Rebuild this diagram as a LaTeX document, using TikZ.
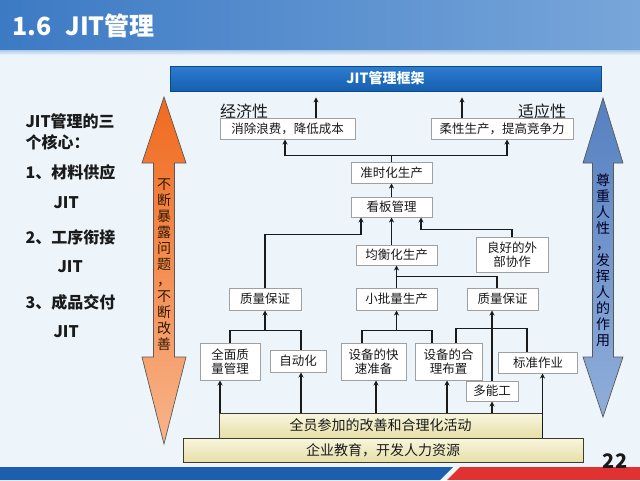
\documentclass[tikz,border=0pt]{standalone}
\usepackage{fontspec}
\setmainfont{Noto Sans CJK SC}
\usetikzlibrary{arrows.meta,calc}
\definecolor{bgc}{HTML}{EEF5FA}
\definecolor{titleL}{HTML}{3C7AC4}
\definecolor{titleR}{HTML}{78A6DA}
\definecolor{frameT}{HTML}{2C7CD0}
\definecolor{frameB}{HTML}{1560B0}
\definecolor{frameD}{HTML}{0E4A8A}
\definecolor{boxline}{HTML}{A0A0A0}
\definecolor{barT}{HTML}{F8F6DE}
\definecolor{barB}{HTML}{E6DFA8}
\definecolor{barD}{HTML}{3C3C30}
\definecolor{orT}{HTML}{F06A1E}
\definecolor{orB}{HTML}{F8B48A}
\definecolor{blT}{HTML}{5580C0}
\definecolor{blB}{HTML}{90AEDA}
\definecolor{bandB}{HTML}{1E5EAE}
\definecolor{bandR}{HTML}{E03232}
\definecolor{ink}{HTML}{1A1A1A}
\begin{document}
\begin{tikzpicture}[x=1pt,y=-1pt,
  bx/.style={draw=boxline, line width=1pt, fill=white, inner sep=1pt, align=center,
     font=\fontsize{12.5}{14}\selectfont, text=ink},
  barbox/.style={draw=barD, line width=1pt, top color=barT, bottom color=barB, inner sep=0pt,
     font=\fontsize{14}{16}\selectfont, text=ink},
  arr/.style={draw=ink, line width=1.3pt, -{Stealth[length=5pt,width=5pt]}},
  ln/.style={draw=ink, line width=1.3pt},
  core/.style={anchor=west, font=\bfseries\fontsize{16}{18}\selectfont, text=ink},
  vtxt/.style={align=center, font=\fontsize{14}{16}\selectfont, inner sep=0pt}
]
\useasboundingbox (0,0) rectangle (640,480);
\fill[bgc] (0,0) rectangle (640,480);
% title bar
\shade[left color=titleL, right color=titleR] (0,0) rectangle (640,50);
\shade[top color=titleR!60!white, bottom color=bgc] (0,50) rectangle (640,55);
\node[anchor=west, text=white, font=\bfseries\fontsize{25}{28}\selectfont] (title) at (9,26) {1.6\hspace{0.55em}JIT管理};
% bottom band
\fill[bandB] (0,467) -- (453,467) -- (440,480) -- (0,480) -- cycle;
\fill[bandR] (460,467) -- (640,467) -- (640,480) -- (447,480) -- cycle;
\node[font=\bfseries\fontsize{20}{22}\selectfont, text=ink] (pg) at (615,461) {22};

% framework bar
\node[draw=frameD, line width=0.8pt, top color=frameT, bottom color=frameB, minimum width=431pt, minimum height=25pt,
  text=white, font=\bfseries\fontsize{14}{16}\selectfont] (top) at (385.5,78.5) {JIT管理框架};

% left core text
\node[core] (c1) at (22,121) {JIT管理的三};
\node[core] (c2) at (22,142) {个核心：};
\node[core] (c3) at (22,172) {1、材料供应};
\node[core] (c4) at (50,203) {JIT};
\node[core] (c5) at (22,237) {2、工序衔接};
\node[core] (c6) at (54,267) {JIT};
\node[core] (c7) at (22,302) {3、成品交付};
\node[core] (c8) at (50,332) {JIT};

% big double arrows
\shade[top color=orT, bottom color=orB, draw=black!65, line width=0.7pt]
  (164,97) -- (186,163) -- (174.5,163) -- (174.5,357) -- (186,357) -- (164,444)
  -- (142,357) -- (153.5,357) -- (153.5,163) -- (142,163) -- cycle;
\node[vtxt, text=black!80!orange] (ot) at (164,265) {不\\断\\暴\\露\\问\\题\\，\\不\\断\\改\\善};
\shade[top color=blT, bottom color=blB, draw=black!65, line width=0.7pt]
  (603,98) -- (623,163) -- (613.5,163) -- (613.5,357) -- (623,357) -- (603,417)
  -- (583,357) -- (592.5,357) -- (592.5,163) -- (583,163) -- cycle;
\node[vtxt, text=black!85!blue] (bt) at (603,260) {尊\\重\\人\\性\\，\\发\\挥\\人\\的\\作\\用};

% labels
\node[font=\fontsize{16}{18}\selectfont, text=ink] (jj) at (244,111) {经济性};
\node[font=\fontsize{16}{18}\selectfont, text=ink] (sy) at (542,111) {适应性};

% boxes
\node[bx, minimum width=135pt, minimum height=21pt] (xc) at (287.5,128.5) {消除浪费，降低成本};
\node[bx, minimum width=142pt, minimum height=21pt] (rx) at (502,128.5) {柔性生产，提高竞争力};
\node[bx, minimum width=81pt, minimum height=21pt] (zs) at (391.5,172.5) {准时化生产};
\node[bx, minimum width=81pt, minimum height=20pt] (kb) at (391.5,207) {看板管理};
\node[bx, minimum width=81pt, minimum height=20pt] (jh) at (396.5,255) {均衡化生产};
\node[bx, minimum width=72pt, minimum height=35pt] (lh) at (512,254.5) {良好的外\\部协作};
\node[bx, minimum width=72pt, minimum height=22pt] (q1) at (265,299) {质量保证};
\node[bx, minimum width=81pt, minimum height=22pt] (xp) at (396.5,299) {小批量生产};
\node[bx, minimum width=71pt, minimum height=22pt] (q2) at (502.5,299) {质量保证};
\node[bx, minimum width=60pt, minimum height=37pt] (qm) at (230,361.5) {全面质\\量管理};
\node[bx, minimum width=56pt, minimum height=22pt] (zd) at (298,361) {自动化};
\node[bx, minimum width=65pt, minimum height=37pt] (ks) at (373.5,361.5) {设备的快\\速准备};
\node[bx, minimum width=67pt, minimum height=37pt] (hl) at (448.5,361.5) {设备的合\\理布置};
\node[bx, minimum width=79pt, minimum height=21pt] (bz) at (538,362.5) {标准作业};
\node[bx, minimum width=52pt, minimum height=20pt] (dn) at (492,391) {多能工};

% bars
\node[barbox, minimum width=400pt, minimum height=24pt] (bar2) at (383,450) {企业教育，开发人力资源};
\node[barbox, minimum width=323pt, minimum height=25pt] (bar1) at (380.5,425.5) {全员参加的改善和合理化活动};

% connectors: top level
\coordinate (xcT) at ([xshift=28.5pt]xc.north);
\coordinate (rxT) at ([xshift=-40pt]rx.north);
\draw[arr, shorten >=6pt] (xcT) -- (xcT |- top.south);
\draw[arr, shorten >=6pt] (rxT) -- (rxT |- top.south);
\draw[arr] (zs.north) |- ([xshift=-2.5pt,yshift=-16pt]xc.south) -- ([xshift=-2.5pt]xc.south);
\draw[arr] (zs.north) |- ([xshift=5pt,yshift=-16pt]rx.south) -- ([xshift=5pt]rx.south);
\draw[arr] (kb.north) -- (zs.south);

% into kanban
\coordinate (kbL) at ([xshift=-30.5pt]kb.south);
\coordinate (kbR) at ([xshift=29.5pt]kb.south);
\draw[arr] (q1.north) |- ([yshift=-17pt]kbL) -- (kbL);
\draw[arr] (jh.north -| kb.south) -- (kb.south);
\draw[arr] (lh.north) |- ([yshift=-12pt]kbR) -- (kbR);

% into levelled production
\draw[arr] (xp.north) -- (jh.south);
\draw[ln] ([xshift=-5.5pt]q2.north) |- ([yshift=11pt]xp.north);

% into quality / small lot
\draw[ln] (qm.north) |- ([yshift=-20pt]q1.south) -| ([xshift=3pt]zd.north);
\draw[arr] ([yshift=-20pt]q1.south) -- (q1.south);
\draw[ln] ([xshift=-11.5pt]ks.north) |- ([yshift=-20pt]xp.south) -| ([xshift=-16.5pt]hl.north);
\draw[arr] ([yshift=-20pt]xp.south) -- (xp.south);
\draw[ln] ([xshift=7.5pt]hl.north) |- ([yshift=-18pt]q2.south) -| ([xshift=-11pt]bz.north);
\draw[arr] (dn.north) -- (dn.north |- q2.south);

% from bars
\coordinate (a1) at ([xshift=-10pt]qm.south);
\coordinate (a2) at ([xshift=3pt]zd.south);
\coordinate (a3) at ([xshift=2.5pt]ks.south);
\coordinate (a4) at ([xshift=-1.5pt]hl.south);
\coordinate (a5) at (dn.south);
\coordinate (a6) at ([xshift=4.5pt]bz.south);
\draw[arr] (a1 |- bar1.north) -- (a1);
\draw[arr] (a2 |- bar1.north) -- (a2);
\draw[arr] (a3 |- bar1.north) -- (a3);
\draw[arr] (a4 |- bar1.north) -- (a4);
\draw[arr] (a5 |- bar1.north) -- (a5);
\draw[arr] (a6 |- bar2.north) -- (a6);
\end{tikzpicture}
\end{document}
